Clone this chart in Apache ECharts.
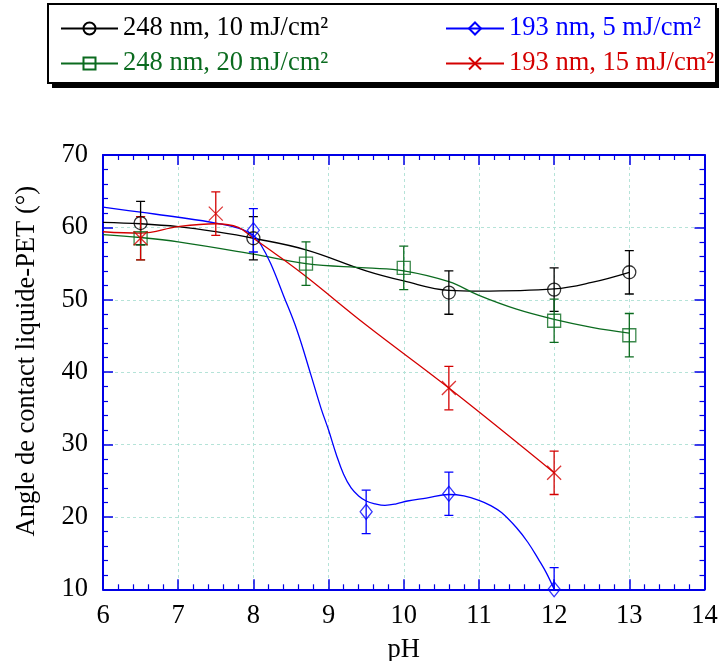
<!DOCTYPE html>
<html><head><meta charset="utf-8">
<script src="https://cdn.jsdelivr.net/npm/echarts@6/dist/echarts.min.js"></script>
<style>html,body{margin:0;padding:0;background:#fff}#c{width:719px;height:661px}</style>
</head><body><div id="c"></div>
<script>
// ---- Series names / colours ----
const seriesNames = ['248 nm, 10 mJ/cm²', '248 nm, 20 mJ/cm²', '193 nm, 5 mJ/cm²', '193 nm, 15 mJ/cm²'];
const seriesColors = ['#000000', '#0b6b1f', '#0000ff', '#d40000'];

// ---- Measured points (pH, angle, error) ----
const blackX = [6.5, 8, 10.6, 12, 13];
const blackY = [60.6, 58.5, 51.0, 51.4, 53.8];
const blackErr = [3, 3, 3, 3, 3];

const greenX = [6.5, 8.7, 10, 12, 13];
const greenY = [58.5, 55.0, 54.4, 47.1, 45.1];
const greenErr = [3, 3, 3, 3, 3];

const blueX = [8, 9.5, 10.6, 12];
const blueY = [59.6, 20.7, 23.2, 10.0];
const blueErr = [3, 3, 3, 3];

const redX = [6.5, 7.5, 10.6, 12];
const redY = [58.5, 61.9, 37.8, 26.1];
const redErr = [3, 3, 3, 3];

// ---- Fitted curves ----
const blackCurveX = [6, 6.5, 7, 7.5, 8, 8.7, 9.5, 10, 10.6, 11, 12, 12.5, 13];
const blackCurveY = [60.7, 60.5, 60.1, 59.4, 58.5, 56.9, 54.0, 52.6, 51.3, 51.2, 51.5, 52.4, 53.8];

const greenCurveX = [6, 6.5, 7, 8, 8.7, 9.5, 10, 10.6, 11, 11.5, 12, 12.5, 13];
const greenCurveY = [59.0, 58.6, 58.0, 56.3, 55.0, 54.4, 54.0, 52.5, 50.6, 48.7, 47.3, 46.2, 45.4];

const blueCurveX = [6, 6.5, 7, 7.5, 7.8, 8.0, 8.1, 8.23, 8.4, 8.58, 8.76, 8.9, 9.0, 9.1, 9.2, 9.3, 9.4, 9.5, 9.62, 9.75, 9.9, 10.05, 10.3, 10.6, 10.8, 11.0, 11.15, 11.3, 11.5, 11.65, 11.8, 11.9, 12.0];
const blueCurveY = [62.8, 62.1, 61.4, 60.6, 59.9, 58.9, 57.6, 55.0, 50.6, 45.8, 39.8, 35.0, 32.0, 28.7, 25.9, 24.0, 22.9, 22.2, 21.8, 21.6, 21.8, 22.2, 22.6, 23.1, 22.9, 22.3, 21.6, 20.6, 18.5, 16.5, 14.0, 12.2, 10.0];

const redCurveX = [6, 6.5, 7, 7.5, 7.8, 8, 8.3, 8.7, 9.5, 10.6, 12];
const redCurveY = [59.4, 59.2, 60.1, 60.5, 60.0, 58.5, 56.3, 53.2, 46.5, 37.8, 26.1];

// ---- Axis ticks ----
const xTicks = [6, 7, 8, 9, 10, 11, 12, 13, 14];
const yTicks = [10, 20, 30, 40, 50, 60, 70];

const FONT = 'Liberation Serif';
const AXIS_BLUE = '#0000e6';
const GRID_COLOR = '#b5e3d8';

const symbols = ['circle', 'rect', 'diamond', 'path://M0,0L10,10M10,0L0,10'];
const symbolSizes = [13, 13, [12, 15], 14];
const legendSymbolSizes = [12, 12, [11, 12], [14, 12]];

const points = [[blackX, blackY, blackErr], [greenX, greenY, greenErr], [blueX, blueY, blueErr], [redX, redY, redErr]];
const curves = [[blackCurveX, blackCurveY], [greenCurveX, greenCurveY], [blueCurveX, blueCurveY], [redCurveX, redCurveY]];

const zip = (a, b) => a.map((v, i) => [v, b[i]]);

const series = [];
seriesNames.forEach((name, i) => {
  const c = seriesColors[i];
  series.push({
    name, type: 'line', smooth: 0.4, showSymbol: false,
    symbol: symbols[i], symbolSize: legendSymbolSizes[i],
    data: zip(curves[i][0], curves[i][1]),
    lineStyle: { color: c, width: 1.3 },
    itemStyle: { color: 'rgba(255,255,255,0)', borderColor: c, borderWidth: 1.2 },
    silent: true, z: 2, animation: false
  });
  const [xs, ys, es] = points[i];
  series.push({
    name: name + ' err', type: 'custom', clip: true, silent: true, z: 3, animation: false,
    data: xs.map((x, k) => [x, ys[k], es[k]]),
    encode: { x: 0, y: 1 },
    renderItem(params, api) {
      const x = api.value(0), y = api.value(1), e = api.value(2);
      const top = api.coord([x, y + e]), bot = api.coord([x, y - e]);
      const hw = 4.5;
      const style = { stroke: c, lineWidth: 1.3 };
      return { type: 'group', children: [
        { type: 'line', shape: { x1: top[0], y1: top[1], x2: bot[0], y2: bot[1] }, style },
        { type: 'line', shape: { x1: top[0] - hw, y1: top[1], x2: top[0] + hw, y2: top[1] }, style },
        { type: 'line', shape: { x1: bot[0] - hw, y1: bot[1], x2: bot[0] + hw, y2: bot[1] }, style }
      ]};
    }
  });
  series.push({
    name: name + ' pts', type: 'scatter', symbol: symbols[i], symbolSize: symbolSizes[i],
    data: zip(xs, ys), silent: true, z: 4, animation: false,
    itemStyle: { color: 'rgba(255,255,255,0)', borderColor: c, borderWidth: 1.3 }
  });
});

const legendCommon = {
  orient: 'vertical', top: 15, itemGap: 8, itemWidth: 57, itemHeight: 15, padding: 0,
  selectedMode: false, textStyle: { fontFamily: FONT, fontSize: 26.5 }
};

const xAxisCommon = {
  type: 'value', min: 6, max: 14, interval: 1,
  axisLine: { show: true, lineStyle: { color: AXIS_BLUE, width: 2 } },
  axisTick: { show: true, inside: true, length: 10, lineStyle: { color: AXIS_BLUE, width: 1.5 } },
  minorTick: { show: true, splitNumber: 5, length: 5, lineStyle: { color: AXIS_BLUE, width: 1.2 } }
};
const yAxisCommon = {
  type: 'value', min: 10, max: 70, interval: 10,
  axisLine: { show: true, lineStyle: { color: AXIS_BLUE, width: 2 } },
  axisTick: { show: true, inside: true, length: 10, lineStyle: { color: AXIS_BLUE, width: 1.5 } },
  minorTick: { show: true, splitNumber: 5, length: 5, lineStyle: { color: AXIS_BLUE, width: 1.2 } }
};

const option = {
  backgroundColor: '#fff',
  animation: false,
  grid: { left: 103, right: 14.5, top: 155, bottom: 71.7, containLabel: false, outerBoundsMode: 'none' },
  legend: [
    Object.assign({}, legendCommon, { left: 60,
      data: [0, 1].map(i => ({ name: seriesNames[i], textStyle: { color: seriesColors[i] } })) }),
    Object.assign({}, legendCommon, { left: 445, itemWidth: 58,
      data: [2, 3].map(i => ({ name: seriesNames[i], textStyle: { color: seriesColors[i] } })) })
  ],
  graphic: [
    { type: 'rect', shape: { x: 52, y: 8, width: 669, height: 80 }, style: { fill: '#000' }, z: -2, silent: true },
    { type: 'rect', shape: { x: 48, y: 4, width: 668, height: 79 }, style: { fill: '#fff', stroke: '#000', lineWidth: 2 }, z: -1, silent: true }
  ],
  xAxis: [
    Object.assign({}, xAxisCommon, {
      position: 'bottom', name: 'pH', nameLocation: 'middle', nameGap: 47,
      nameTextStyle: { fontFamily: FONT, fontSize: 26.5, color: '#000' },
      axisLabel: { show: true, margin: 13, fontFamily: FONT, fontSize: 26.5, color: '#000',
        formatter: v => xTicks.includes(v) ? String(v) : '' },
      splitLine: { show: true, lineStyle: { color: GRID_COLOR, type: [3, 3], width: 1 } }
    }),
    Object.assign({}, xAxisCommon, { position: 'top', axisLabel: { show: false }, splitLine: { show: false } })
  ],
  yAxis: [
    Object.assign({}, yAxisCommon, {
      position: 'left', name: 'Angle de contact liquide-PET (°)', nameLocation: 'middle', nameGap: 62,
      nameTextStyle: { fontFamily: FONT, fontSize: 26.5, color: '#000', padding: [0, 0, 0, 22] },
      axisLabel: { show: true, margin: 15, fontFamily: FONT, fontSize: 26.5, color: '#000',
        formatter: v => yTicks.includes(v) ? String(v) : '' },
      splitLine: { show: true, lineStyle: { color: GRID_COLOR, type: [3, 3], width: 1 } }
    }),
    Object.assign({}, yAxisCommon, { position: 'right', axisLabel: { show: false }, splitLine: { show: false } })
  ],
  series
};

const chart = echarts.init(document.getElementById('c'), null, { renderer: 'canvas' });
chart.setOption(option);
</script>
</body></html>
